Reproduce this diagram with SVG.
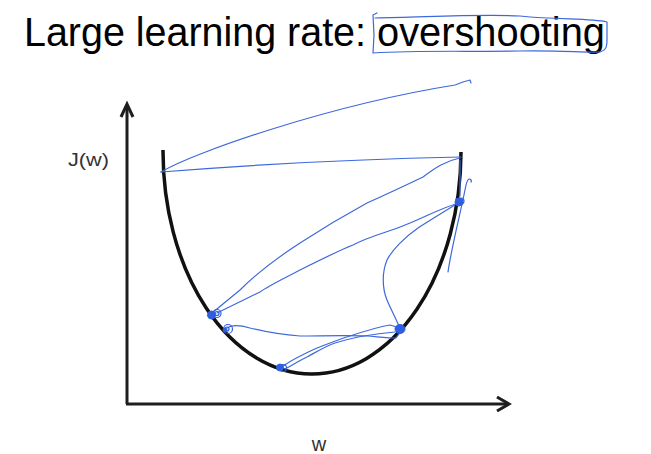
<svg xmlns="http://www.w3.org/2000/svg" width="651" height="454" viewBox="0 0 651 454">
<style>
.ink{fill:none;stroke:#3d68dc;stroke-width:1.2;stroke-linecap:round;stroke-linejoin:round}
.dot{fill:#2f5fe0;stroke:#2f5fe0;stroke-width:1}
.ring{fill:none;stroke:#2f5fe0;stroke-width:1.2}
.axis{fill:none;stroke:#1e1e1e;stroke-width:3}
.lbl{font-family:"Liberation Sans",Arial,sans-serif;fill:#333}
</style>
<rect width="651" height="454" fill="#ffffff"/>
<g id="title">
<text x="24" y="46" font-family="Liberation Sans, Arial, sans-serif" font-size="40" fill="#000" textLength="342" lengthAdjust="spacingAndGlyphs">Large learning rate:</text>
<text x="377" y="46" font-family="Liberation Sans, Arial, sans-serif" font-size="40" fill="#000" textLength="228" lengthAdjust="spacingAndGlyphs">overshooting</text>
<path class="ink" d="M377,13 L373,15 L374,35 L373,53 C420,50 470,52 520,51 C560,50 585,53 600,52 C607,50 607,45 607,40 L607,22 C590,18 560,20 520,16 C480,14 430,17 375,18"/>
</g>
<g id="axes">
<path class="axis" d="M127,404 L127,106"/>
<path class="axis" d="M121,117 L127,104 L133,117" stroke-linejoin="miter" stroke-width="3.5"/>
<path class="axis" d="M126,404 L507,404"/>
<path class="axis" d="M497,397 L509,404 L497,411" stroke-linejoin="miter" stroke-width="3.5"/>
</g>
<g id="label-J">
<text class="lbl" x="68" y="166" font-size="18" textLength="41" lengthAdjust="spacingAndGlyphs">J(w)</text>
</g>
<g id="label-w">
<text class="lbl" x="319" y="451" font-size="20" text-anchor="middle">w</text>
</g>
<g id="cost-curve">
<path d="M163,150 A149,223 0 0 0 461,152" fill="none" stroke="#111" stroke-width="3.5"/>
</g>
<g id="steps">
<path class="ink" d="M161,172 C195,152 330,105 455,85 L463,82 L470,80 L471,83"/>
<path class="ink" d="M161,172 Q310,160 461,157"/>
<path class="ink" d="M460,158 C445,161 435,168 423,177 C400,188 385,195 367,203 C345,215 320,230 300,243 C280,256 258,272 240,290 L212,313"/>
<path class="ink" d="M459,203 C440,208 420,220 400,227 C385,233 370,236 353,245 C340,250 320,260 300,270 C285,278 270,285 260,292 L217,313"/>
<path class="ink" d="M448,272 C452,245 460,215 465,190 C466,184 467,180 469,179 C471,179 472,181 471,182"/>
<path class="ink" d="M460,160 L460,196"/>
<path class="ink" d="M458,203 C447,210 430,220 418,228 C405,237 392,250 387,260 C382,272 382,288 387,300 C392,312 397,320 400,329"/>
<path class="ink" d="M227,328 C230,326 236,324 250,328 C262,331 285,335 300,336 C320,336 345,335 367,336 C380,337 390,338 396,338 L401,331"/>
<path class="ink" d="M283,366 C295,358 308,352 317,348 C330,343 340,339 350,336 C365,331 378,327 390,325 L400,328"/>
<path class="ink" d="M285,369 C295,364 300,360 307,357 C318,351 326,346 335,343 C348,339 370,334 395,332"/>
<circle class="dot" cx="459" cy="202" r="4"/>
<circle class="ring" cx="461" cy="201" r="3"/>
<circle class="dot" cx="211.5" cy="315" r="4"/>
<circle class="ring" cx="217" cy="313.5" r="4"/>
<circle class="ring" cx="217" cy="313.5" r="2"/>
<circle class="dot" cx="225" cy="330" r="2"/>
<circle class="ring" cx="228" cy="329" r="4.5"/>
<circle class="ring" cx="227" cy="329" r="2"/>
<ellipse class="dot" cx="400" cy="329" rx="5" ry="4.5"/>
<circle class="dot" cx="280" cy="367.5" r="3.5"/>
<circle class="ring" cx="283" cy="368" r="3.5"/>
</g>
</svg>
